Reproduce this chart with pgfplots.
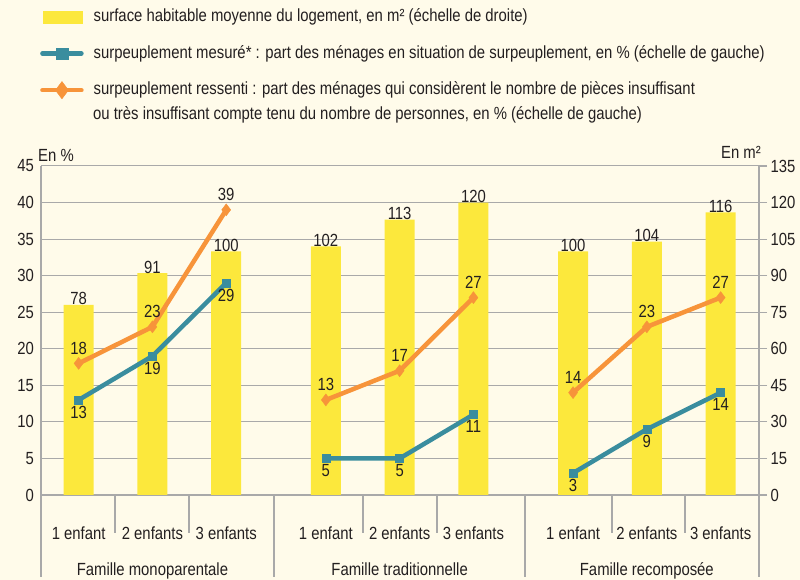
\documentclass[border=0pt]{standalone}
\usepackage{pgfplots}
\pgfplotsset{compat=1.18}
\usepackage{fontspec}
\setmainfont{Liberation Sans}[FakeStretch=0.845]
\definecolor{bg}{HTML}{FFFBEA}
\definecolor{barY}{HTML}{FCE83C}
\definecolor{teal2}{HTML}{3A8D9E}
\definecolor{orng}{HTML}{F7943A}
\definecolor{gridc}{HTML}{A9A9A9}
\definecolor{txt}{HTML}{231F20}
\newcommand\lbl{\fontsize{17.6}{20}\selectfont}
\pgfplotsset{every axis/.append style={font=\lbl}, tick label style={font=\lbl, text=txt}}
\begin{document}
\begin{tikzpicture}[font=\lbl, text=txt]
\path[use as bounding box, fill=bg] (0,0) rectangle (800pt,580pt);
% ---- Axis A : surface (right scale), grid, bars
\begin{axis}[
  at={(41pt,85pt)}, anchor=south west, scale only axis,
  width=718pt, height=329pt,
  xmin=-0.51, xmax=9.22, ymin=0, ymax=135,
  axis y line*=right, axis x line*=bottom,
  axis line style={draw=gridc, line width=1.2pt, -},
  ytick={0,15,...,135},
  ymajorgrids, grid style={draw=gridc, line width=1pt},
  tick align=outside, major tick length=8pt,
  ytick style={draw=gridc, line width=1.2pt},
  xtick={0,1,2,3.35,4.35,5.35,6.7,7.7,8.7},
  xticklabels={1 enfant,2 enfants,3 enfants,1 enfant,2 enfants,3 enfants,1 enfant,2 enfants,3 enfants},
  xtick style={draw=none},
  xticklabel style={anchor=base, yshift=-37pt},
  yticklabel style={anchor=west},
  /pgf/number format/assume math mode=true,
  clip=false,
]
\addplot[ybar, bar width=30pt, fill=barY, draw=none,
  nodes near coords,
  every node near coord/.append style={text=txt, font=\lbl, anchor=south, yshift=-3.5pt}]
  coordinates {(0,78) (1,91) (2,100) (3.35,102) (4.35,113) (5.35,120) (6.7,100) (7.7,104) (8.7,116)};
\node[anchor=base, text=txt] at (axis cs:1,0) [yshift=-81pt] {Famille monoparentale};
\node[anchor=base, text=txt] at (axis cs:4.35,0) [yshift=-81pt] {Famille traditionnelle};
\node[anchor=base, text=txt] at (axis cs:7.7,0) [yshift=-81pt] {Famille recomposée};
\end{axis}
% ---- Axis B : overcrowding (left scale), lines
\begin{axis}[
  at={(41pt,85pt)}, anchor=south west, scale only axis,
  width=718pt, height=329pt,
  xmin=-0.51, xmax=9.22, ymin=0, ymax=45,
  axis y line*=left, axis x line=none,
  axis line style={draw=gridc, line width=1.2pt, -},
  ytick={0,5,...,45}, major tick length=0pt,
  yticklabel style={anchor=east, xshift=-3.5pt},
  /pgf/number format/assume math mode=true,
  unbounded coords=jump,
  clip=false,
  legend style={at={(axis description cs:-0.0014,1.4793)}, anchor=north west,
    draw=none, fill=none, inner sep=0pt, row sep=19.5pt, column sep=10pt,
    font=\lbl, text=txt, cells={anchor=west},
    nodes={inner sep=0pt, text height=13pt, text depth=4pt}},
  legend image code/.code={\draw[mark repeat=2, mark phase=2, line cap=round, #1, every mark/.append style={scale=1.45}]
     plot coordinates {(2pt,0pt) (21.5pt,0pt) (41pt,0pt)};},
]
\addlegendimage{legend image code/.code={\fill[barY] (3pt,-6pt) rectangle (42pt,6pt);}}
\addlegendentry{surface habitable moyenne du logement, en m² (échelle de droite)}
\addplot[teal2, line width=4.5pt, mark=square*, mark size=4pt,
  mark options={solid, line width=0.4pt, fill=teal2},
  nodes near coords,
  every node near coord/.append style={text=txt, font=\lbl, anchor=north, yshift=-2.5pt}]
  coordinates {(0,13) (1,19) (2,29) (2.7,nan) (3.35,5) (4.35,5) (5.35,11) (6,nan) (6.7,3) (7.7,9) (8.7,14)};
\addlegendentry{surpeuplement mesuré* : part des ménages en situation de surpeuplement, en \% (échelle de gauche)}
\addplot[orng, line width=4.5pt, mark=diamond*, mark size=6pt,
  mark options={solid, line width=0.4pt, fill=orng},
  nodes near coords,
  every node near coord/.append style={text=txt, font=\lbl, anchor=south, yshift=5.5pt}]
  coordinates {(0,18) (1,23) (2,39) (2.7,nan) (3.35,13) (4.35,17) (5.35,27) (6,nan) (6.7,14) (7.7,23) (8.7,27)};
\addlegendentry{surpeuplement ressenti : part des ménages qui considèrent le nombre de pièces insuffisant}
\end{axis}
% ---- decorations in page coordinates
\node[anchor=west, inner sep=0pt] at (93pt,465pt) {ou très insuffisant compte tenu du nombre de personnes, en \% (échelle de gauche)};
\node[anchor=west, inner sep=0pt] at (38pt,425pt) {En \%};
\node[anchor=east, inner sep=0pt] at (761pt,428pt) {En m²};
\begin{scope}[draw=gridc, line width=1.2pt]
\draw (41pt,3pt) -- (41pt,85pt);
\draw (759pt,3pt) -- (759pt,85pt);
\draw (274pt,3pt) -- (274pt,85pt);
\draw (525pt,3pt) -- (525pt,85pt);
\draw (115pt,47pt) -- (115pt,85pt);
\draw (189pt,47pt) -- (189pt,85pt);
\draw (363pt,47pt) -- (363pt,85pt);
\draw (437pt,47pt) -- (437pt,85pt);
\draw (612pt,47pt) -- (612pt,85pt);
\draw (685pt,47pt) -- (685pt,85pt);
\end{scope}
\end{tikzpicture}
\end{document}
